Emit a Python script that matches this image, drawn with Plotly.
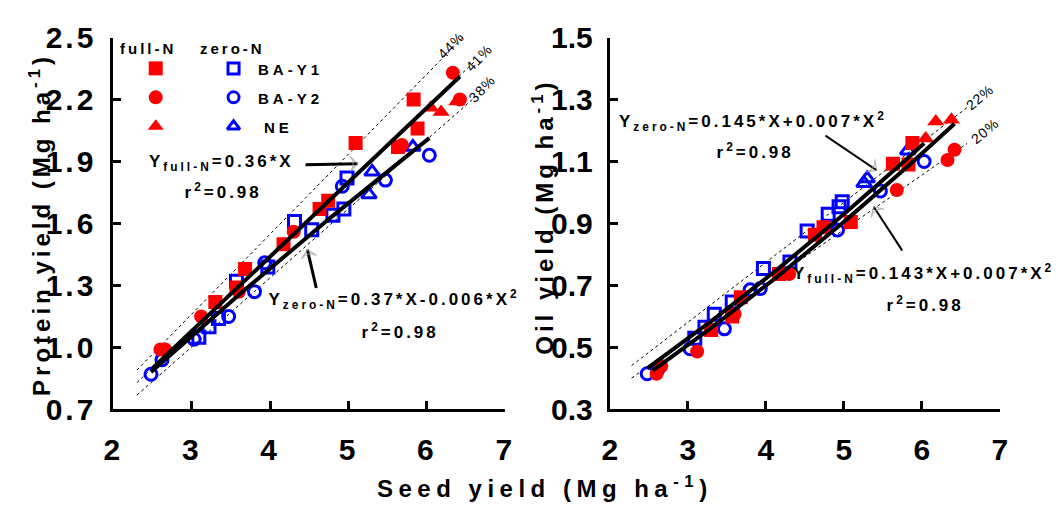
import numpy as np
import plotly.graph_objects as go

# ---------------- data ----------------
# full-N, BA-Y1 (red filled squares)
fn_bay1_seed = [3.30, 3.57, 3.68, 4.17, 4.63, 4.74, 5.09, 5.63, 5.83, 5.88]
fn_bay1_protein = [1.22, 1.29, 1.38, 1.50, 1.67, 1.71, 1.99, 1.97, 2.20, 2.06]
fn_bay1_oil = [0.556, 0.600, 0.662, 0.737, 0.864, 0.888, 0.905, 1.093, 1.090, 1.160]
# full-N, BA-Y2 (red filled circles)
fn_bay2_seed = [2.60, 2.66, 3.12, 3.60, 4.30, 5.68, 6.33, 6.42]
fn_bay2_protein = [0.99, 0.99, 1.15, 1.27, 1.56, 1.98, 2.33, 2.20]
fn_bay2_oil = [0.415, 0.440, 0.487, 0.607, 0.737, 1.008, 1.105, 1.138]
# full-N, NE (red filled triangles)
fn_ne_seed = [6.05, 6.18, 6.38]
fn_ne_protein = [2.16, 2.14, 2.19]
fn_ne_oil = [1.174, 1.229, 1.235]
# zero-N, BA-Y1 (blue open squares)
zn_bay1_seed = [3.09, 3.22, 3.34, 3.57, 3.97, 4.31, 4.53, 4.80, 4.94, 4.98]
zn_bay1_protein = [1.05, 1.10, 1.14, 1.32, 1.39, 1.61, 1.57, 1.64, 1.67, 1.82]
zn_bay1_oil = [0.530, 0.565, 0.607, 0.647, 0.755, 0.776, 0.876, 0.930, 0.954, 0.970]
# zero-N, BA-Y2 (blue open circles)
zn_bay2_seed = [2.48, 2.62, 3.03, 3.47, 3.80, 3.93, 4.92, 5.47, 6.03]
zn_bay2_protein = [0.87, 0.94, 1.04, 1.15, 1.27, 1.41, 1.78, 1.81, 1.93]
zn_bay2_oil = [0.415, 0.430, 0.496, 0.560, 0.686, 0.690, 0.879, 1.005, 1.100]
# zero-N, NE (blue open triangles)
zn_ne_seed = [5.26, 5.30, 5.82]
zn_ne_protein = [1.74, 1.85, 1.97]
zn_ne_oil = [1.030, 1.045, 1.135]

# regression curves: y = c0 + c1*X + c2*X^2 over the seed-yield span
protein_full_coef = [0.0, 0.36, 0.0]
protein_full_span = [2.50, 6.42]
protein_zero_coef = [0.0, 0.37, -0.006]
protein_zero_span = [2.48, 6.03]
oil_full_coef = [0.015, 0.143, 0.007]
oil_full_span = [2.55, 6.42]
oil_zero_coef = [0.030, 0.145, 0.007]
oil_zero_span = [2.48, 6.03]

# dashed concentration reference lines (percent of dry matter)
protein_pct = [44, 41, 38]
protein_pct_span = [[2.30, 6.50], [2.30, 6.60], [2.30, 6.62]]
oil_pct = [22, 20]
oil_pct_span = [[2.28, 6.58], [2.28, 6.58]]
dry_matter = 0.88

x_ticks = [2, 3, 4, 5, 6, 7]
protein_ticks = [0.7, 1.0, 1.3, 1.6, 1.9, 2.2, 2.5]
oil_ticks = [0.3, 0.5, 0.7, 0.9, 1.1, 1.3, 1.5]

# ---------------- style ----------------
W, H = 1058, 518
RED, BLUE = "#FF0000", "#0000FF"
SANS = "Liberation Sans, Arial, sans-serif"

fig = go.Figure()


def poly(coef, span):
    x = np.linspace(span[0], span[1], 60)
    return x, coef[0] + coef[1] * x + coef[2] * x ** 2


# dashed lines
for pct, span in zip(protein_pct, protein_pct_span):
    x = np.array(span)
    fig.add_trace(go.Scatter(x=x, y=pct / 100 * dry_matter * x, mode="lines",
                             line=dict(color="black", width=1, dash="3px,3px"),
                             xaxis="x", yaxis="y", hoverinfo="skip"))
for pct, span in zip(oil_pct, oil_pct_span):
    x = np.array(span)
    fig.add_trace(go.Scatter(x=x, y=pct / 100 * dry_matter * x, mode="lines",
                             line=dict(color="black", width=1, dash="3px,3px"),
                             xaxis="x2", yaxis="y2", hoverinfo="skip"))

series = [
    (zn_bay1_seed, zn_bay1_protein, zn_bay1_oil, "square-open", BLUE, 12),
    (zn_bay2_seed, zn_bay2_protein, zn_bay2_oil, "circle-open", BLUE, 12),
    (zn_ne_seed, zn_ne_protein, zn_ne_oil, "triangle-up-open", BLUE, 13),
    (fn_bay1_seed, fn_bay1_protein, fn_bay1_oil, "square", RED, 14),
    (fn_bay2_seed, fn_bay2_protein, fn_bay2_oil, "circle", RED, 14),
    (fn_ne_seed, fn_ne_protein, fn_ne_oil, "triangle-up", RED, 15),
]
for sx, sp_, so, sym, col, size in series:
    mk = dict(symbol=sym, color=col, size=size, line=dict(color=col, width=3 if "open" in sym else 0))
    fig.add_trace(go.Scatter(x=sx, y=sp_, mode="markers", marker=mk, xaxis="x", yaxis="y"))
    fig.add_trace(go.Scatter(x=sx, y=so, mode="markers", marker=mk, xaxis="x2", yaxis="y2"))

for coef, span, xa, ya in [
    (protein_full_coef, protein_full_span, "x", "y"),
    (protein_zero_coef, protein_zero_span, "x", "y"),
    (oil_full_coef, oil_full_span, "x2", "y2"),
    (oil_zero_coef, oil_zero_span, "x2", "y2"),
]:
    x, y = poly(coef, span)
    fig.add_trace(go.Scatter(x=x, y=y, mode="lines", line=dict(color="black", width=4),
                             xaxis=xa, yaxis=ya, hoverinfo="skip"))

# legend block (pixel overlay axis x3/y3)
leg_col_x = [150, 229]
leg_row_y = [55, 86, 117]
leg_syms = [("square", "square-open"), ("circle", "circle-open"), ("triangle-up", "triangle-up-open")]
for ry, (fs, zs) in zip(leg_row_y, leg_syms):
    fig.add_trace(go.Scatter(x=[leg_col_x[0]], y=[ry], mode="markers", xaxis="x3", yaxis="y3",
                             marker=dict(symbol=fs, color=RED, size=14, line=dict(width=0)), cliponaxis=False))
    fig.add_trace(go.Scatter(x=[leg_col_x[1]], y=[ry], mode="markers", xaxis="x3", yaxis="y3",
                             marker=dict(symbol=zs, color=BLUE, size=11, line=dict(color=BLUE, width=3)),
                             cliponaxis=False))


# pointer arrows (shaft + open arrowhead), in pixel overlay coordinates
def arrow(tx, ty, hx, hy, width):
    fig.add_trace(go.Scatter(x=[tx, hx], y=[ty, hy], mode="lines", xaxis="x3", yaxis="y3",
                             line=dict(color="black", width=width), cliponaxis=False, hoverinfo="skip"))
    fig.add_trace(go.Scatter(x=[tx, hx], y=[ty, hy], mode="markers", xaxis="x3", yaxis="y3",
                             marker=dict(symbol="arrow-wide-open", size=[0, 11], angleref="previous",
                                         color="#9a9a9a", line=dict(color="#9a9a9a", width=1.2)),
                             cliponaxis=False, hoverinfo="skip"))


arrow(302, 158, 355, 157, 3)
arrow(313, 290, 304, 249, 3)
arrow(830, 127, 882, 164, 2)
arrow(908, 250, 879, 203, 2)

annotations = []
spacing = []


def ann(text, x, y, size, ls, bold=True, angle=0, xanchor="center"):
    annotations.append(dict(text=text, x=x, y=y, xref="x3", yref="y3", showarrow=False,
                            xanchor=xanchor, yanchor="middle", textangle=angle,
                            font=dict(family=SANS, size=size, color="black",
                                      weight="bold" if bold else "normal")))
    spacing.append(ls)


# legend texts
ann("full-N", 142, 34, 15, 3)
ann("zero-N", 228, 34, 15, 3)
ann("BA-Y1", 262, 56, 15, 4, xanchor="left")
ann("BA-Y2", 262, 87, 15, 4, xanchor="left")
ann("NE", 262, 118, 15, 4, xanchor="left")

# equations
ann("Y<sub>full-N</sub>=0.36*X", 217, 156, 17, 3)
ann("r<sup>2</sup>=0.98", 218, 186, 17, 3)
ann("Y<sub>zero-N</sub>=0.37*X-0.006*X<sup>2</sup>", 392, 302, 17, 3)
ann("r<sup>2</sup>=0.98", 398, 336, 17, 3)
ann("Y<sub>zero-N</sub>=0.145*X+0.007*X<sup>2</sup>", 756, 112, 17, 3)
ann("r<sup>2</sup>=0.98", 758, 143, 17, 3)
ann("Y<sub>full-N</sub>=0.143*X+0.007*X<sup>2</sup>", 930, 275, 17, 3)
ann("r<sup>2</sup>=0.98", 931, 307, 17, 3)

# percent labels
for txt, x, y in [("44%", 450, 30), ("41%", 478, 44), ("38%", 481, 77)]:
    ann(txt, x, y, 14, 1, bold=False, angle=-46)
for txt, x, y in [("22%", 987, 86), ("20%", 992, 122)]:
    ann(txt, x, y, 14, 1, bold=False, angle=-40)

# axis titles
ann("Protein yield (Mg ha<sup>-1</sup>)", 33, 222, 24, 4, angle=-90)
ann("Oil yield (Mg ha<sup>-1</sup>)", 543, 214, 24, 4, angle=-90)
ann("Seed yield (Mg ha<sup>-1</sup>)", 545, 503, 24, 5.5)

tickfont = dict(family=SANS, size=30, color="black", weight="bold")
ydom = [(H - 420) / H, (H - 22) / H]


def xax(dom, anchor):
    return dict(domain=dom, range=[2, 7], tickvals=x_ticks, ticktext=[str(v) for v in x_ticks],
                ticks="inside", ticklen=8, tickwidth=3, tickcolor="black",
                showline=True, linewidth=3, linecolor="black", showgrid=False, zeroline=False,
                tickfont=tickfont, anchor=anchor, ticklabelstandoff=12)


def yax(dom, rng, vals, anchor):
    return dict(domain=dom, range=rng, tickvals=vals, ticktext=[f"{v:.1f}" for v in vals],
                ticks="inside", ticklen=8, tickwidth=3, tickcolor="black",
                showline=True, linewidth=3, linecolor="black", showgrid=False, zeroline=False,
                tickfont=tickfont, anchor=anchor, ticklabelstandoff=8)


fig.update_layout(
    width=W, height=H, margin=dict(l=0, r=0, t=0, b=0),
    paper_bgcolor="white", plot_bgcolor="rgba(0,0,0,0)", showlegend=False,
    xaxis=xax([107 / W, 505 / W], "y"),
    yaxis=yax(ydom, [0.7, 2.5], protein_ticks, "x"),
    xaxis2=xax([611 / W, 1007 / W], "y2"),
    yaxis2=yax(ydom, [0.3, 1.5], oil_ticks, "x2"),
    xaxis3=dict(domain=[0, 1], range=[0, W], visible=False, anchor="y3", fixedrange=True),
    yaxis3=dict(domain=[0, 1], range=[H, 0], visible=False, anchor="x3", fixedrange=True),
    annotations=annotations,
)

post = """
var gd = document.getElementById('{plot_id}');
var sp = %s;
function applyLS(){
  gd.querySelectorAll('g.annotation').forEach(function(a){
    var i = parseInt(a.getAttribute('data-index'));
    var t = a.querySelector('text.annotation-text');
    if (t && sp[i]) { t.style.letterSpacing = sp[i] + 'px'; }
  });
  gd.querySelectorAll('g.xtick text, g.ytick text').forEach(function(t){ t.style.letterSpacing = '3px'; });
}
applyLS();
setTimeout(applyLS, 30);
""" % str(spacing)

fig.write_html("out.html", post_script=post)
